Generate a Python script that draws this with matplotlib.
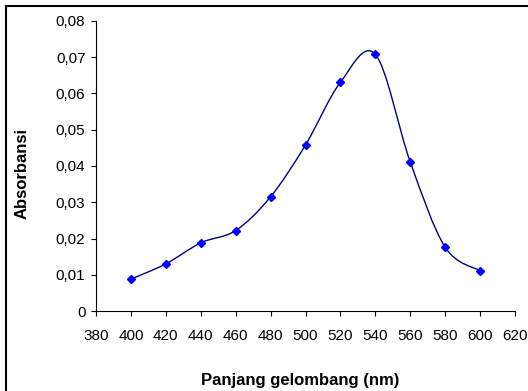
import numpy as np
import matplotlib
matplotlib.use('Agg')
import matplotlib.pyplot as plt
from matplotlib.path import Path
from matplotlib.patches import PathPatch, Rectangle

plt.rcParams['font.family'] = ['Liberation Sans', 'DejaVu Sans']

# Data spektrum serapan
panjang_gelombang = [400, 420, 440, 460, 480, 500, 520, 540, 560, 580, 600]
absorbansi = [0.0088, 0.0130, 0.0188, 0.0222, 0.0315, 0.0458, 0.0631, 0.0708, 0.0411, 0.0176, 0.0111]

x_ticks = [380, 400, 420, 440, 460, 480, 500, 520, 540, 560, 580, 600, 620]
y_ticks = [0, 0.01, 0.02, 0.03, 0.04, 0.05, 0.06, 0.07, 0.08]
y_tick_labels = ['0', '0,01', '0,02', '0,03', '0,04', '0,05', '0,06', '0,07', '0,08']


def smooth_path(xs, ys):
    """Kurva Bezier halus melewati semua titik (gaya garis halus spreadsheet)"""
    pts = np.column_stack([xs, ys]).astype(float)
    n = len(pts)
    verts = [pts[0]]
    codes = [Path.MOVETO]
    for i in range(n - 1):
        p0 = pts[max(i - 1, 0)]
        p1 = pts[i]
        p2 = pts[i + 1]
        p3 = pts[min(i + 2, n - 1)]
        c1 = p1 + (p2 - p0) / 6.0
        c2 = p2 - (p3 - p1) / 6.0
        verts += [c1, c2, p2]
        codes += [Path.CURVE4] * 3
    return Path(verts, codes)


fig = plt.figure(figsize=(5.28, 3.91), dpi=100)
ax = fig.add_axes([0.1818, 0.2046, 0.7936, 0.7417])

patch = PathPatch(smooth_path(panjang_gelombang, absorbansi), facecolor='none',
                  edgecolor='#000080', linewidth=1.0, zorder=2)
ax.add_patch(patch)
ax.plot(panjang_gelombang, absorbansi, linestyle='none', marker='D',
        markersize=4.5, color='#0000ff', zorder=3)

ax.set_xlim(380, 620)
ax.set_ylim(0, 0.08)
ax.set_xticks(x_ticks)
ax.set_xticklabels([str(v) for v in x_ticks])
ax.set_yticks(y_ticks)
ax.set_yticklabels(y_tick_labels)
ax.tick_params(direction='out', length=3.6, width=0.8, labelsize=11, colors='black')
ax.tick_params(axis='x', pad=9.5)
ax.tick_params(axis='y', pad=4)

for side in ['top', 'right']:
    ax.spines[side].set_visible(False)
for side in ['left', 'bottom']:
    ax.spines[side].set_linewidth(0.8)
    ax.spines[side].set_color('black')

ax.set_xlabel('Panjang gelombang (nm)', fontsize=12, fontweight='bold', va='center')
ax.set_ylabel('Absorbansi', fontsize=12, fontweight='bold', va='center')
ax.xaxis.set_label_coords(0.488, -0.238)
ax.yaxis.set_label_coords(-0.177, 0.474)

# bingkai grafik
frame = Rectangle((6 / 528, -0.05), 1.2, 1 - 6 / 391 + 0.05, transform=fig.transFigure,
                  fill=False, edgecolor='black', linewidth=1.5)
fig.patches.append(frame)

fig.savefig('out.png', dpi=100)
